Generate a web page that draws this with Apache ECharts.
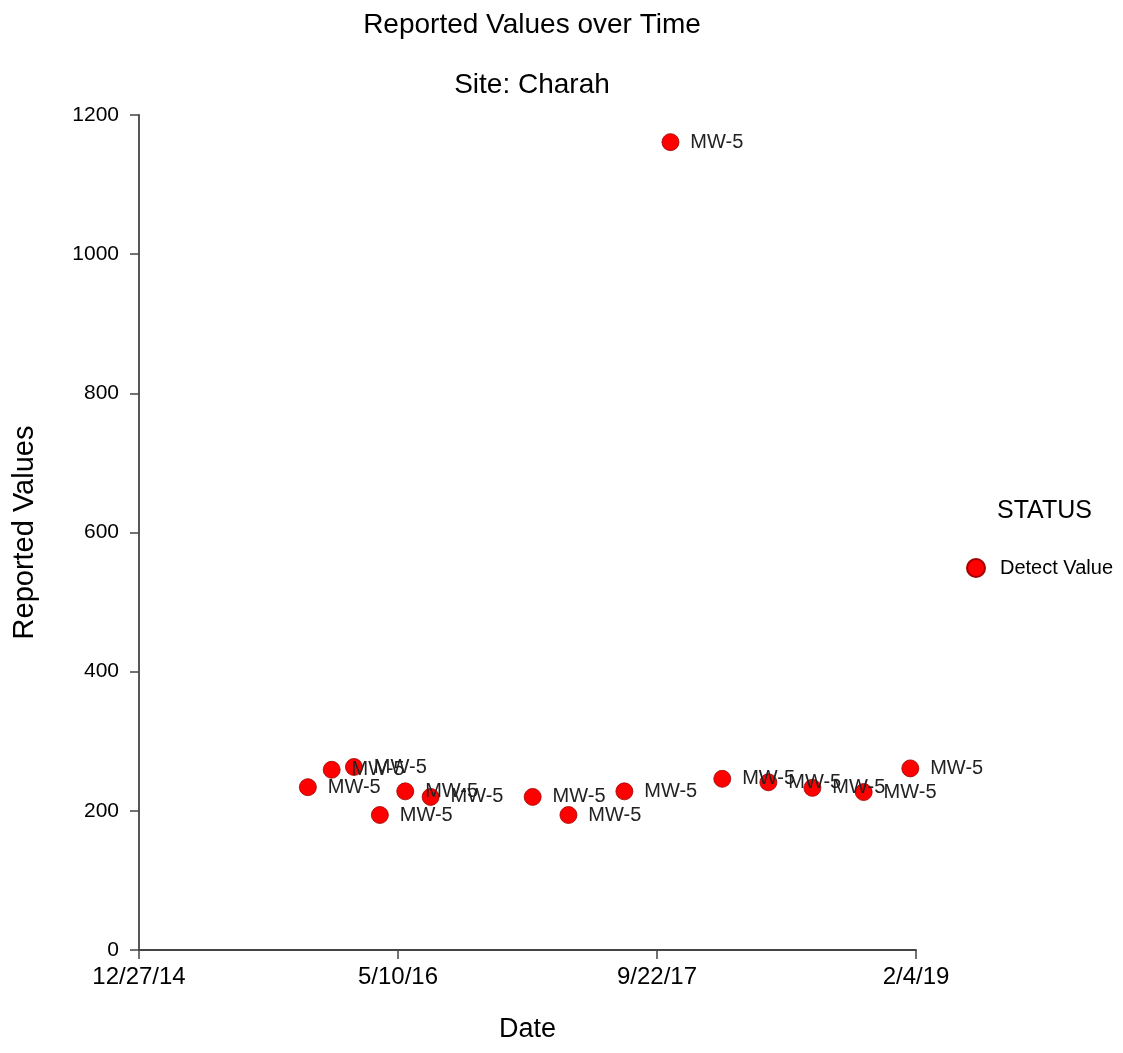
<!DOCTYPE html>
<html>
<head>
<meta charset="utf-8">
<script src="https://cdn.jsdelivr.net/npm/echarts@6/dist/echarts.min.js"></script>
<style>
  html, body { margin: 0; padding: 0; background: #fff; }
  #chart { width: 1123px; height: 1053px; }
</style>
</head>
<body>
<div id="chart"></div>
<script>
const sampleDates = [
  "2015-11-18", "2016-01-03", "2016-02-15", "2016-04-05", "2016-05-24",
  "2016-07-12", "2017-01-25", "2017-04-04", "2017-07-21", "2017-10-18",
  "2018-01-26", "2018-04-25", "2018-07-19", "2018-10-26", "2019-01-24"
];
const reportedValues = [234, 259, 263, 194, 228, 220, 220, 194, 228, 1161, 246, 241, 233, 227, 261];
const wellIds = ["MW-5", "MW-5", "MW-5", "MW-5", "MW-5", "MW-5", "MW-5", "MW-5",
  "MW-5", "MW-5", "MW-5", "MW-5", "MW-5", "MW-5", "MW-5"];
const xTickDates = ["2014-12-27", "2016-05-10", "2017-09-22", "2019-02-04"];
const yTicks = [0, 200, 400, 600, 800, 1000, 1200];

// x axis runs in days counted from the first tick date, so the 500-day ticks start at 0
const DAY = 86400000;
const ts = (s) => Date.parse(s + "T00:00:00Z");
const origin = ts(xTickDates[0]);
const toDays = (s) => Math.round((ts(s) - origin) / DAY);
const xTicks = xTickDates.map(toDays);

const fmtDate = (days) => {
  const d = new Date(origin + days * DAY);
  return (d.getUTCMonth() + 1) + "/" + d.getUTCDate() + "/" + String(d.getUTCFullYear()).slice(2);
};

const chart = echarts.init(document.getElementById("chart"));
const font = "Liberation Sans, Arial, sans-serif";

chart.setOption({
  animation: false,
  textStyle: { fontFamily: font },
  title: [
    {
      text: "Reported Values over Time",
      left: 527, top: 6, textAlign: "center",
      textStyle: { fontSize: 28, fontWeight: "normal", color: "#000", fontFamily: font }
    },
    {
      text: "Site: Charah",
      left: 527, top: 66, textAlign: "center",
      textStyle: { fontSize: 28, fontWeight: "normal", color: "#000", fontFamily: font }
    }
  ],
  grid: { left: 139, right: 207, top: 115, bottom: 103, containLabel: false },
  legend: {
    data: ["Detect Value"],
    left: 961, top: 553,
    icon: "circle",
    itemWidth: 18, itemHeight: 18,
    itemGap: 8,
    textStyle: { fontSize: 20, color: "#000", fontFamily: font, padding: [0, 0, 0, 10] }
  },
  graphic: [
    {
      type: "text", left: 997, top: 499,
      style: { text: "STATUS", font: "25px " + font, fill: "#000" }
    }
  ],
  xAxis: {
    type: "value",
    min: xTicks[0],
    max: xTicks[xTicks.length - 1],
    interval: xTicks[1] - xTicks[0],
    name: "Date",
    nameLocation: "middle",
    nameGap: 66,
    nameTextStyle: { fontSize: 27, color: "#000", fontFamily: font },
    axisLine: { lineStyle: { color: "#444", width: 1.8 } },
    axisTick: { show: true, length: 9, lineStyle: { color: "#444", width: 1.5 } },
    axisLabel: {
      formatter: (v) => fmtDate(v),
      fontSize: 24, color: "#000", margin: 15, fontFamily: font,
      showMinLabel: true, showMaxLabel: true
    },
    splitLine: { show: false }
  },
  yAxis: {
    type: "value",
    min: 0, max: 1200, interval: 200,
    name: "Reported Values",
    nameLocation: "middle",
    nameGap: 100,
    nameRotate: 90,
    nameTextStyle: { fontSize: 29, color: "#000", fontFamily: font },
    axisLine: { show: true, lineStyle: { color: "#444", width: 1.8 } },
    axisTick: { show: true, length: 9, lineStyle: { color: "#444", width: 1.5 } },
    axisLabel: {
      fontSize: 21, color: "#000", margin: 20, fontFamily: font,
      formatter: (v) => yTicks.includes(v) ? String(v) : ""
    },
    splitLine: { show: false }
  },
  series: [
    {
      name: "Detect Value",
      type: "scatter",
      symbol: "circle",
      symbolSize: 17,
      itemStyle: { color: "#ff0000", borderColor: "#a00000", borderWidth: 0.8, opacity: 1 },
      label: {
        show: true,
        position: "right",
        distance: 11,
        formatter: (p) => p.data[2],
        fontSize: 20, color: "#222", fontFamily: font
      },
      labelLayout: { hideOverlap: false },
      data: sampleDates.map((d, i) => [toDays(d), reportedValues[i], wellIds[i]])
    }
  ]
});
</script>
</body>
</html>
